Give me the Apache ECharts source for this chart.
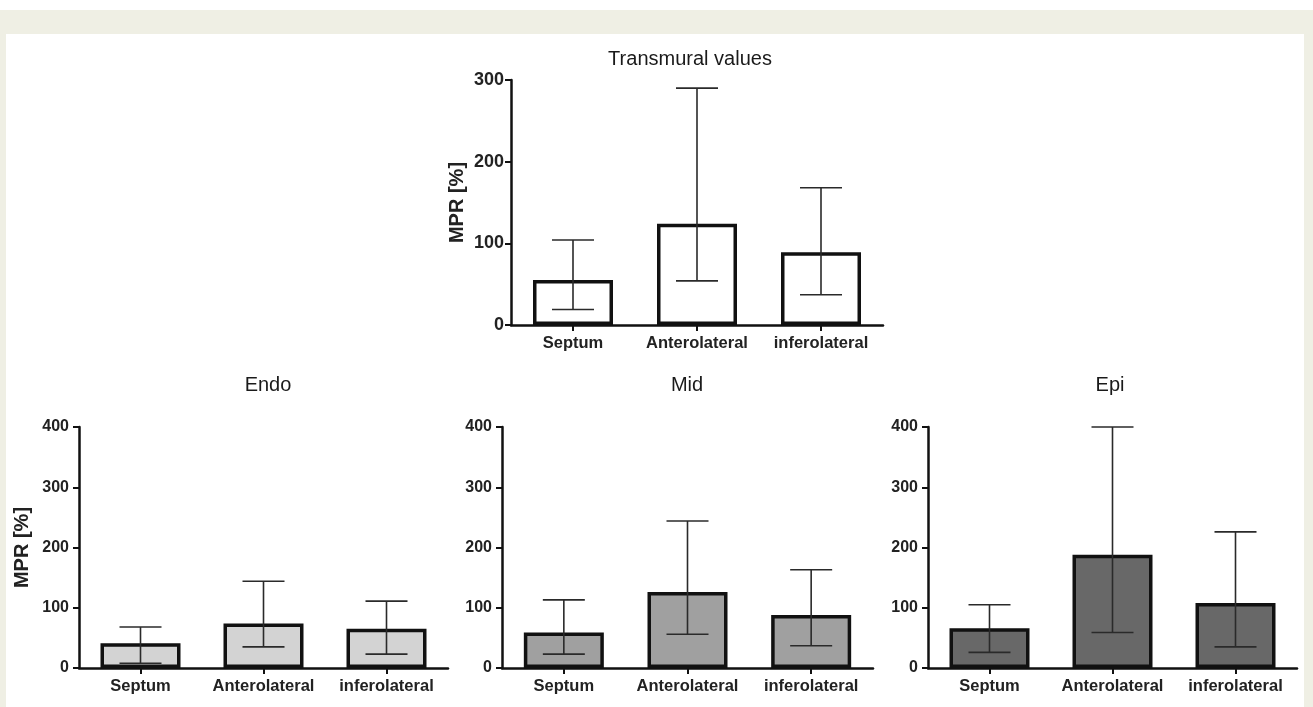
<!DOCTYPE html>
<html>
<head>
<meta charset="utf-8">
<script src="https://cdn.jsdelivr.net/npm/echarts@6/dist/echarts.min.js"></script>
<style>
  html, body { margin: 0; padding: 0; background: #ffffff; }
  #frameTop { position: absolute; left: 0; top: 10px; width: 1313px; height: 24px; background: #efefe4; }
  #frameLeft { position: absolute; left: 0; top: 34px; width: 6px; height: 673px; background: #efefe4; }
  #frameRight { position: absolute; left: 1304px; top: 34px; width: 9px; height: 673px; background: #efefe4; }
  #chart { position: absolute; left: 0; top: 0; width: 1313px; height: 707px; }
</style>
</head>
<body>
<div id="frameTop"></div>
<div id="frameLeft"></div>
<div id="frameRight"></div>
<div id="chart"></div>
<script>
// ---- data ----
const categories = ['Septum', 'Anterolateral', 'inferolateral'];
const panelTitles = ['Transmural values', 'Endo', 'Mid', 'Epi'];
const yAxisName = 'MPR [%]';

const transMean = [55, 124, 89];
const transLow  = [19, 54, 37];
const transHigh = [104, 290, 168];

const endoMean = [41, 74, 65];
const endoLow  = [8, 35, 23];
const endoHigh = [68, 144, 111];

const midMean = [59, 126, 88];
const midLow  = [23, 56, 37];
const midHigh = [113, 244, 163];

const epiMean = [66, 188, 108];
const epiLow  = [26, 59, 35];
const epiHigh = [105, 400, 226];

const topMax = 300;
const bottomMax = 400;
const tickStep = 100;

// ---- styling / layout ----
const FONT = '"Liberation Sans", Arial, Helvetica, sans-serif';
const panels = [
  { mean: transMean, low: transLow, high: transHigh, fill: '#ffffff', grid: { left: 511, top: 80, width: 372, height: 245 }, max: topMax, name: true, titleX: 690, titleY: 49 },
  { mean: endoMean, low: endoLow, high: endoHigh, fill: '#d3d3d3', grid: { left: 79, top: 427, width: 369, height: 241 }, max: bottomMax, name: true, titleX: 268, titleY: 375 },
  { mean: midMean, low: midLow, high: midHigh, fill: '#a0a0a0', grid: { left: 502, top: 427, width: 371, height: 241 }, max: bottomMax, name: false, titleX: 687, titleY: 375 },
  { mean: epiMean, low: epiLow, high: epiHigh, fill: '#686868', grid: { left: 928, top: 427, width: 369, height: 241 }, max: bottomMax, name: false, titleX: 1110, titleY: 375 }
];

const chart = echarts.init(document.getElementById('chart'), null, { renderer: 'canvas' });

const option = {
  animation: false,
  backgroundColor: 'transparent',
  title: panels.map((p, i) => ({
    text: panelTitles[i],
    left: p.titleX,
    top: p.titleY,
    textAlign: 'center',
    padding: 0,
    textStyle: { fontFamily: FONT, fontSize: 20, fontWeight: 'normal', color: '#1a1a1a' }
  })),
  grid: panels.map(p => Object.assign({ containLabel: false }, p.grid)),
  xAxis: panels.map((p, i) => ({
    type: 'category',
    gridIndex: i,
    data: categories,
    axisLine: { show: true, lineStyle: { color: '#111', width: 2.5 } },
    axisTick: { show: true, alignWithLabel: true, length: 6, lineStyle: { color: '#111', width: 2 } },
    axisLabel: { fontFamily: FONT, fontSize: 16.5, fontWeight: 'bold', color: '#222', margin: 10, interval: 0 },
    splitLine: { show: false }
  })),
  yAxis: panels.map((p, i) => ({
    type: 'value',
    gridIndex: i,
    min: 0,
    max: p.max,
    interval: tickStep,
    name: p.name ? yAxisName : '',
    nameLocation: 'middle',
    nameGap: i === 0 ? 44 : 47,
    nameTextStyle: { fontFamily: FONT, fontSize: 20, fontWeight: 'bold', color: '#222' },
    axisLine: { show: true, lineStyle: { color: '#111', width: 2.5 } },
    axisTick: { show: true, length: 6, lineStyle: { color: '#111', width: 2 } },
    axisLabel: { fontFamily: FONT, fontSize: i === 0 ? 18 : 16, fontWeight: 'bold', color: '#222', margin: i === 0 ? 7 : 10 },
    splitLine: { show: false }
  })),
  series: []
};

panels.forEach((p, i) => {
  option.series.push({
    type: 'bar',
    xAxisIndex: i,
    yAxisIndex: i,
    data: p.mean,
    barWidth: 80,
    itemStyle: { color: p.fill, borderColor: '#111', borderWidth: 3.5 },
    z: 2
  });
  const errData = categories.map((c, k) => [k, p.low[k], p.high[k]]);
  option.series.push({
    type: 'custom',
    xAxisIndex: i,
    yAxisIndex: i,
    data: errData,
    z: 5,
    encode: { x: 0, y: [1, 2] },
    renderItem: function (params, api) {
      const x = api.value(0);
      const lo = api.coord([x, api.value(1)]);
      const hi = api.coord([x, api.value(2)]);
      const half = 21;
      const style = { stroke: '#2a2a2a', lineWidth: 1.6, fill: null };
      return {
        type: 'group',
        children: [
          { type: 'line', shape: { x1: hi[0], y1: hi[1], x2: lo[0], y2: lo[1] }, style: style },
          { type: 'line', shape: { x1: hi[0] - half, y1: hi[1], x2: hi[0] + half, y2: hi[1] }, style: style },
          { type: 'line', shape: { x1: lo[0] - half, y1: lo[1], x2: lo[0] + half, y2: lo[1] }, style: style }
        ]
      };
    }
  });
});

chart.setOption(option);
</script>
</body>
</html>
